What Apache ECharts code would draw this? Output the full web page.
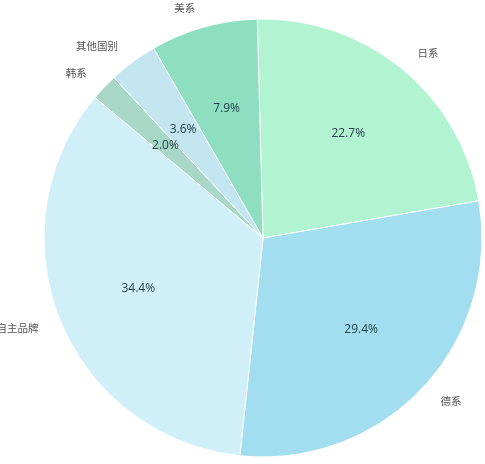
<!DOCTYPE html>
<html><head><meta charset="utf-8">
<script src="https://cdn.jsdelivr.net/npm/echarts@6/dist/echarts.min.js"></script>
<style>html,body{margin:0;padding:0;background:#fff}#c{width:485px;height:464px}</style>
</head><body><div id="c"></div>
<script>
const categories = ['日系', '德系', '自主品牌', '韩系', '其他国别', '美系'];
const shares = [22.7, 29.4, 34.4, 2.0, 3.6, 7.9];
const colors = ['#b2f3d1', '#a2def0', '#d0eff9', '#a8d7c8', '#c2e5f0', '#8edfc2'];

const data = categories.map((n, i) => ({ name: n, value: shares[i] }));
const center = [263, 238];
const common = { type: 'pie', center: center, startAngle: 91.5, clockwise: true, silent: true, animation: false };

const chart = echarts.init(document.getElementById('c'));
chart.setOption({
  backgroundColor: '#fff',
  series: [
    Object.assign({}, common, {
      radius: [0, 219],
      data: data.map((d, i) => ({ name: d.name, value: d.value, itemStyle: { color: colors[i] } })),
      itemStyle: { borderColor: '#ffffff', borderWidth: 1 },
      avoidLabelOverlap: true,
      label: { show: true, position: 'outside', formatter: '{b}', distanceToLabelLine: 3,
        overflow: 'none', edgeDistance: 0,
        color: '#555', fontSize: 10.5, fontFamily: 'Noto Sans CJK SC, sans-serif' },
      labelLine: { show: false, length: 20, length2: 0 }
    }),
    Object.assign({}, common, {
      radius: [44, 219],
      data: data,
      itemStyle: { color: 'rgba(0,0,0,0)' },
      label: { show: true, position: 'inside', formatter: p => p.value.toFixed(1) + '%',
        color: '#24424a', fontSize: 12, fontFamily: 'Open Sans, Noto Sans, sans-serif' },
      labelLine: { show: false }
    })
  ]
});
</script></body></html>
